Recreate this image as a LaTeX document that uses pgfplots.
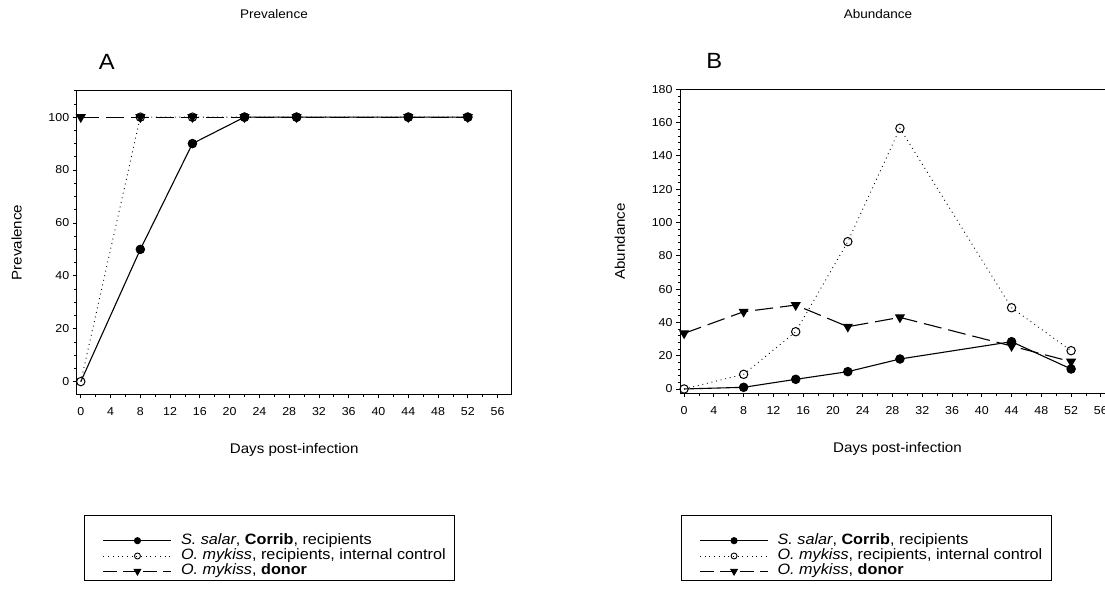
\documentclass[border=0pt]{standalone}
\usepackage{fontspec}
\setmainfont[FakeStretch=1.08]{Liberation Sans}
\usepackage{pgfplots}
\pgfplotsset{compat=1.18}

\pgfplotsset{
  panel/.style={
    scale only axis, width=435pt,
    axis line style={line width=0.9pt, black},
    xmin=-0.55, xmax=57.9,
    xtick={0,4,...,56}, minor xtick={0,2,...,58},
    tick align=outside, xtick pos=bottom, ytick pos=left,
    major tick length=4pt, minor tick length=2.5pt,
    every tick/.style={line width=0.8pt, black},
    /pgf/number format/assume math mode=true,
    tick label style={font=\fontsize{11.5}{12}\selectfont},
    xticklabel style={yshift=-6pt},
    label style={font=\fontsize{14}{16}\selectfont},
    xlabel style={at={(axis description cs:0.5,-0.1835)}, anchor=center},
    ylabel style={at={(axis description cs:-0.138,0.5)}, anchor=center},
    legend style={draw=none, fill=none, anchor=north west,
      font=\fontsize{15}{16}\selectfont, row sep=0.3pt, inner sep=0pt,
      nodes={inner sep=1pt, text height=10pt, text depth=3pt},
      /tikz/every odd column/.append style={column sep=8pt}},
    legend cell align=left,
    legend image code/.code={\draw[mark repeat=2,mark phase=2,#1] plot coordinates {(0pt,0pt) (34pt,0pt) (68pt,0pt)};},
  },
  salar/.style={black, line width=1.1pt, solid, mark=*, mark size=4.2pt, mark options={solid, fill=black}},
  mykiss/.style={black, line width=0.9pt, dash pattern=on 0.9pt off 3.8pt, mark=o, mark size=4.2pt, mark options={solid, line width=1pt}},
  donor/.style={black, line width=1.1pt, dash pattern=on 18pt off 7pt, mark=triangle*, mark size=4.8pt, mark options={solid, fill=black, rotate=180}},
  salarleg/.style={black, line width=1.1pt, solid, mark=*, mark size=3pt, mark options={solid, fill=black}},
  mykissleg/.style={black, line width=0.8pt, dash pattern=on 0.9pt off 3.8pt, mark=o, mark size=3pt, mark options={solid, line width=0.9pt}},
  donorleg/.style={black, line width=1.1pt, dash pattern=on 14pt off 6pt, mark=triangle*, mark size=3.6pt, mark options={solid, fill=black, rotate=180}},
}

\begin{document}
\begin{tikzpicture}
% ---------- Panel A ----------
\begin{axis}[panel,
  at={(76.7pt,213.7pt)}, anchor=south west, height=303.6pt,
  ymin=-4.8, ymax=110, ytick={0,20,...,100}, minor ytick={0,5,...,110},
  xlabel={Days post-infection}, ylabel={Prevalence},
  legend style={at={(axis description cs:0.0598,-0.4568)}},
]
\addlegendimage{salarleg}
\addlegendentry{\textit{S. salar}, \textbf{Corrib}, recipients}
\addlegendimage{mykissleg}
\addlegendentry{\textit{O. mykiss}, recipients, internal control}
\addlegendimage{donorleg}
\addlegendentry{\textit{O. mykiss}, \textbf{donor}}
\addplot[donor, forget plot] coordinates {(0,100) (8,100) (15,100) (22,100) (29,100) (44,100) (52,100)};
\addplot[salar, forget plot, mark indices={2,3,4,5,6,7}] coordinates {(0,0) (8,50) (15,90) (22,100) (29,100) (44,100) (52,100)};
\addplot[mykiss, forget plot] coordinates {(0,0) (8,100) (15,100) (22,100) (29,100) (44,100) (52,100)};
\end{axis}

% ---------- Panel B ----------
\begin{axis}[panel,
  at={(680pt,214.7pt)}, anchor=south west, height=304pt,
  ymin=-2.6, ymax=180, ytick={0,20,...,180}, minor ytick={0,4,...,180},
  xlabel={Days post-infection}, ylabel={Abundance},
  legend style={at={(axis description cs:0.0444,-0.4595)}},
]
\addlegendimage{salarleg}
\addlegendentry{\textit{S. salar}, \textbf{Corrib}, recipients}
\addlegendimage{mykissleg}
\addlegendentry{\textit{O. mykiss}, recipients, internal control}
\addlegendimage{donorleg}
\addlegendentry{\textit{O. mykiss}, \textbf{donor}}
\addplot[donor, forget plot] coordinates {(0,33.4) (8,46.4) (15,50.4) (22,37.4) (29,43.0) (44,25.8) (52,16.4)};
\addplot[salar, forget plot, mark indices={2,3,4,5,6,7}] coordinates {(0,0) (8,1.0) (15,5.8) (22,10.4) (29,18.0) (44,28.4) (52,12.0)};
\addplot[mykiss, forget plot] coordinates {(0,0) (8,8.8) (15,34.4) (22,88.5) (29,156.6) (44,48.8) (52,23.0)};
\end{axis}

% titles and panel letters
\node[font=\fontsize{12.5}{15}\selectfont] at (274pt,594pt) {Prevalence};
\node[font=\fontsize{12.5}{15}\selectfont] at (878pt,594pt) {Abundance};
\node[font=\fontsize{22}{24}\selectfont] at (106.7pt,546.3pt) {A};
\node[font=\fontsize{22}{24}\selectfont] at (714.3pt,547.3pt) {B};

% legend frames
\draw[line width=0.8pt] (84pt,28pt) rectangle (454pt,92.3pt);
\draw[line width=0.8pt] (681pt,28pt) rectangle (1051pt,93pt);

\pgfresetboundingbox
\useasboundingbox (0pt,0pt) rectangle (1105pt,608pt);
\end{tikzpicture}
\end{document}
